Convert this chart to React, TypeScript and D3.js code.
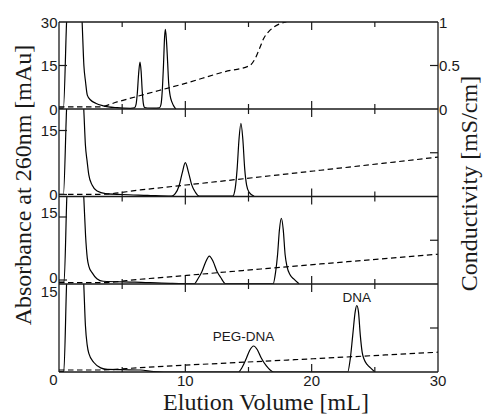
import React from 'react';
import * as d3 from 'd3';

// ---------- data ----------
// [elution volume mL, absorbance mAu]
const absorbance1: [number, number][] = [
  [0, 0.3], [0.35, 0.3], [0.6, 30], [1.2, 70], [1.83, 30], [1.97, 15], [2.1, 9.4], [2.24, 4.8],
  [2.5, 3.1], [2.9, 2.0], [3.5, 1.1], [4.6, 0.45], [5.65, 0.25], [5.98, 0.4], [6.1, 1.6],
  [6.2, 5.5], [6.3, 12], [6.41, 16.2], [6.5, 13], [6.59, 6], [6.68, 1.8], [6.78, 0.5],
  [7.0, 0.35], [7.5, 0.3], [7.95, 0.4], [8.07, 1.5], [8.17, 6], [8.27, 15], [8.36, 25],
  [8.42, 27.5], [8.5, 24], [8.6, 16], [8.68, 9], [8.8, 4.5], [8.95, 2.3], [9.1, 0.9], [9.25, 0],
];
const absorbance2: [number, number][] = [
  [0, 0], [0.35, 0], [0.6, 20.04], [1.2, 45], [1.96, 20.04], [2.09, 11.6], [2.23, 7.7],
  [2.36, 4.6], [2.62, 2.2], [3.02, 0.8], [3.68, 0.2], [5.0, 0], [7.0, -0.2], [8.9, -0.4],
  [9.2, 0.2], [9.5, 2.0], [9.75, 5.0], [10.0, 7.45], [10.25, 5.2], [10.5, 2.3], [10.8, 0.5],
  [11.1, -0.4], [13.75, -0.4], [13.95, 1.5], [14.1, 6], [14.25, 13], [14.4, 16.7],
  [14.55, 13], [14.7, 6], [14.85, 2.2], [15.05, 0.5], [15.45, -0.4],
];
const absorbance3: [number, number][] = [
  [0, -0.5], [0.4, -0.5], [0.62, 19.88], [1.2, 45], [1.96, 19.88], [2.1, 10.7], [2.24, 5.2],
  [2.37, 3.2], [2.63, 1.7], [3.0, 0.3], [3.5, -0.3], [6.0, -0.5], [8.8, -0.8], [10.7, -0.9],
  [11.0, 0.3], [11.3, 1.9], [11.6, 4.2], [11.9, 5.7], [12.2, 4.4], [12.5, 2.1], [12.8, 0.6],
  [13.2, -0.9], [16.95, -0.9], [17.15, 2], [17.3, 6], [17.45, 12], [17.6, 14.7], [17.75, 12],
  [17.9, 6], [18.05, 3.2], [18.3, 1.2], [18.6, 0.2], [19.0, -0.9],
];
const absorbance4: [number, number][] = [
  [0, -0.3], [0.38, -0.3], [0.6, 16.13], [1.2, 40], [1.96, 16.13], [2.09, 8.4], [2.23, 4.7],
  [2.36, 3.1], [2.76, 1.4], [3.3, 0.4], [3.83, 0.1], [5.0, 0.05], [6.44, 0], [7.5, -0.3],
  [8.3, -0.38], [14.2, -0.38], [14.5, 0.5], [14.8, 2.0], [15.1, 3.7], [15.4, 4.5], [15.7, 3.8],
  [16.0, 2.3], [16.4, 0.8], [17.0, -0.38], [22.85, -0.38], [23.05, 2], [23.25, 6.5],
  [23.45, 11], [23.57, 12.1], [23.7, 11], [23.85, 6.5], [24.0, 3.3], [24.15, 2.0], [24.4, 1.0],
  [24.7, 0.3], [25.0, -0.38],
];

// [elution volume mL, conductivity (relative right-axis units)]
const conductivity1: [number, number][] = [
  [0, 0.025], [3.2, 0.025], [4.6, 0.081], [6.44, 0.155], [10.0, 0.295], [13.16, 0.43],
  [15.1, 0.5], [15.53, 0.58], [15.93, 0.716], [16.2, 0.81], [16.6, 0.89], [17.0, 0.94],
  [17.5, 0.98], [18.0, 1.0],
];
const conductivity2: [number, number][] = [[0, 0.025], [3.2, 0.025], [6.44, 0.075], [20.7, 0.3], [30, 0.45]];
const conductivity3: [number, number][] = [[0, 0.015], [3.2, 0.015], [6.44, 0.054], [20.7, 0.229], [30, 0.34]];
const conductivity4: [number, number][] = [[0, 0.023], [3.2, 0.023], [6.44, 0.05], [20.7, 0.155], [30, 0.225]];

const absorbanceSeries = [absorbance1, absorbance2, absorbance3, absorbance4];
const conductivitySeries = [conductivity1, conductivity2, conductivity3, conductivity4];

const volumeTicks = [5, 10, 15, 20, 25];
const majorVolumeTicks = [10, 20];
const volumeLabels = [10, 20, 30];
const absTickValues = [[0, 15, 30], [0, 15], [0, 15], [0, 15]];
const condTickValues1 = [0, 0.5, 1];
const condTickLabels1 = ['0', '0.5', '1'];
const peakLabels = [
  { text: 'PEG-DNA', volume: 14.6, abs: 5.5 },
  { text: 'DNA', volume: 23.57, abs: 12.8 },
];

// ---------- layout ----------
const W = 483;
const H = 414;
const X0 = 59;
const X1 = 438;
const panelTops = [22, 109, 196.5, 284];
const panelBottoms = [109, 196.5, 284, 372];
const absDomains: [number, number][] = [[0, 30], [-0.47, 20.04], [-0.95, 19.88], [-0.38, 16.13]];
const absLabelShift = [[0, 0, 0], [0, 0], [-3, -4], [10, 1.5]];
const showAbsTick = [true, true, true, false];

const tickFont = "'Liberation Sans', Arial, sans-serif";
const titleFont = "'Liberation Serif', 'Times New Roman', serif";
const ink = '#1a1a1a';

export default function App() {
  const x = d3.scaleLinear().domain([0, 30]).range([X0, X1]);

  const panels = panelTops.map((top, i) => {
    const bottom = panelBottoms[i];
    const yAbs = d3.scaleLinear().domain(absDomains[i]).range([bottom, top]);
    const yCond = d3.scaleLinear().domain([0, 1]).range([bottom, top]);
    const absLine = d3
      .line<[number, number]>()
      .x((d) => x(d[0]))
      .y((d) => yAbs(d[1]))
      .curve(d3.curveMonotoneX);
    const condLine = d3
      .line<[number, number]>()
      .x((d) => x(d[0]))
      .y((d) => yCond(d[1]))
      .curve(d3.curveMonotoneX);
    return { top, bottom, yAbs, yCond, absPath: absLine(absorbanceSeries[i]) || '', condPath: condLine(conductivitySeries[i]) || '' };
  });

  const p4 = panels[3];

  return (
    <svg width={W} height={H} style={{ position: 'absolute', left: 0, top: 0, background: '#fff' }}>
      <defs>
        {panels.map((p, i) => (
          <clipPath id={`clip${i}`} key={i}>
            <rect x={X0} y={p.top} width={X1 - X0} height={p.bottom - p.top} />
          </clipPath>
        ))}
      </defs>

      {/* data */}
      {panels.map((p, i) => (
        <g key={`d${i}`} clipPath={`url(#clip${i})`}>
          <path d={p.condPath} fill="none" stroke="#000" strokeWidth={1.2} strokeDasharray="5.5,3.5" />
          <path d={p.absPath} fill="none" stroke="#000" strokeWidth={1.2} />
        </g>
      ))}

      {/* frame */}
      <g stroke={ink} strokeWidth={1.3} fill="none">
        <line x1={X0} x2={X0} y1={panelTops[0]} y2={panelBottoms[3]} />
        <line x1={X1} x2={X1} y1={panelTops[0]} y2={panelBottoms[3]} />
        <line x1={X0} x2={X1} y1={panelTops[0]} y2={panelTops[0]} />
        {panelBottoms.map((b, i) => (
          <line key={i} x1={X0} x2={X1} y1={b} y2={b} />
        ))}
      </g>

      {/* x ticks at every panel boundary */}
      <g stroke={ink} strokeWidth={1.2}>
        {[panelTops[0], ...panelBottoms].map((yb, j, arr) =>
          volumeTicks.map((v) => {
            const len = majorVolumeTicks.includes(v) ? 8 : 5;
            const isTop = j === 0;
            const isBottom = j === arr.length - 1;
            const y1 = isTop ? yb : yb - len;
            const y2 = isBottom ? yb : yb + len;
            return <line key={`${j}-${v}`} x1={x(v)} x2={x(v)} y1={y1} y2={y2} />;
          })
        )}
      </g>

      {/* left ticks & labels */}
      {panels.map((p, i) => (
        <g key={`l${i}`}>
          {absTickValues[i].map((v, k) => {
            const yy = p.yAbs(v);
            const inside = yy > p.top + 1 && yy < p.bottom - 1;
            return (
              <g key={k}>
                {inside && showAbsTick[i] && (
                  <line x1={X0} x2={X0 + 8} y1={yy} y2={yy} stroke={ink} strokeWidth={1.2} />
                )}
                <text
                  x={57.5}
                  y={yy + absLabelShift[i][k]}
                  textAnchor="end"
                  dominantBaseline="central"
                  fontFamily={tickFont}
                  fontSize={15}
                  fill={ink}
                >
                  {v}
                </text>
              </g>
            );
          })}
        </g>
      ))}

      {/* right ticks & labels */}
      {panels.map((p, i) => (
        <line key={`r${i}`} x1={X1 - 8} x2={X1} y1={p.yCond(0.5)} y2={p.yCond(0.5)} stroke={ink} strokeWidth={1.2} />
      ))}
      {condTickValues1.map((v, k) => (
        <text
          key={`rl${k}`}
          x={439}
          y={panels[0].yCond(v)}
          textAnchor="start"
          dominantBaseline="central"
          fontFamily={tickFont}
          fontSize={15}
          fill={ink}
        >
          {condTickLabels1[k]}
        </text>
      ))}

      {/* x labels */}
      {volumeLabels.map((v) => (
        <text
          key={`xl${v}`}
          x={x(v)}
          y={380.5}
          textAnchor="middle"
          dominantBaseline="central"
          fontFamily={tickFont}
          fontSize={15}
          fill={ink}
        >
          {v}
        </text>
      ))}

      {/* peak labels */}
      {peakLabels.map((pl) => (
        <text
          key={pl.text}
          x={x(pl.volume)}
          y={p4.yAbs(pl.abs)}
          textAnchor="middle"
          fontFamily={tickFont}
          fontSize={13.5}
          fill={ink}
        >
          {pl.text}
        </text>
      ))}

      {/* axis titles */}
      <text x={266} y={410} textAnchor="middle" fontFamily={titleFont} fontSize={24} fill={ink}>
        Elution Volume [mL]
      </text>
      <text
        transform="translate(31,185) rotate(-90)"
        textAnchor="middle"
        fontFamily={titleFont}
        fontSize={24}
        fill={ink}
      >
        Absorbance at 260nm [mAu]
      </text>
      <text
        transform="translate(476.5,183.5) rotate(-90)"
        textAnchor="middle"
        fontFamily={titleFont}
        fontSize={24}
        fill={ink}
      >
        Conductivity [mS/cm]
      </text>
    </svg>
  );
}
